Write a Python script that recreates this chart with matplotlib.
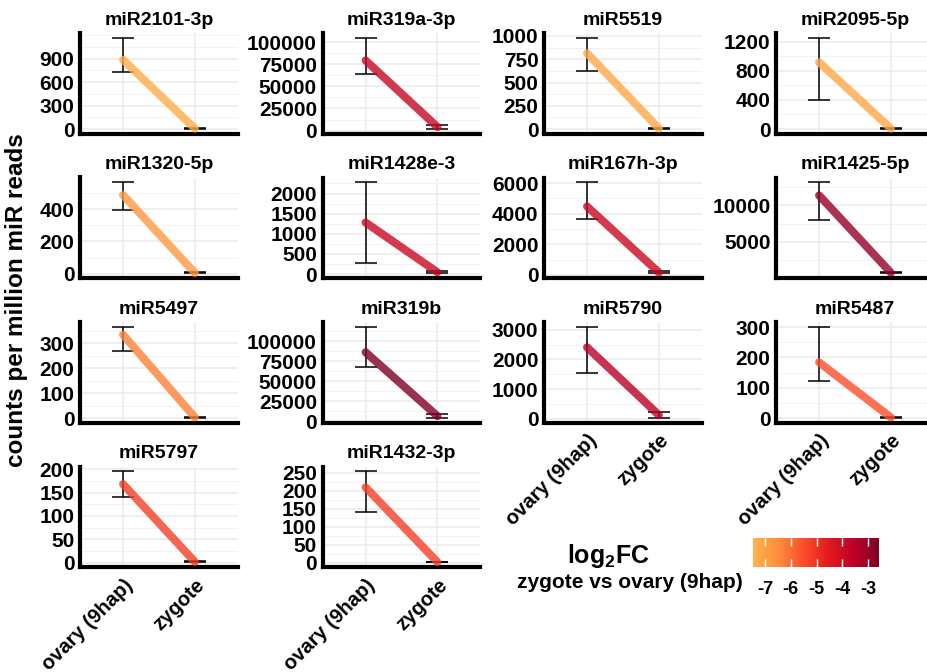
import numpy as np
import matplotlib
matplotlib.use("Agg")
import matplotlib.pyplot as plt
from matplotlib.colors import LinearSegmentedColormap, Normalize
from matplotlib.cm import ScalarMappable
from matplotlib.ticker import FixedLocator, AutoMinorLocator, FuncFormatter

plt.rcParams['font.family'] = ['Liberation Sans', 'DejaVu Sans']
plt.rcParams['font.weight'] = 'bold'
plt.rcParams['axes.unicode_minus'] = False
plt.rcParams['mathtext.fontset'] = 'custom'
plt.rcParams['mathtext.rm'] = 'Liberation Sans:bold'
plt.rcParams['mathtext.it'] = 'Liberation Sans:bold'
plt.rcParams['mathtext.bf'] = 'Liberation Sans:bold'

# mirna names in facet order
mirnas = ["miR2101-3p", "miR319a-3p", "miR5519", "miR2095-5p",
          "miR1320-5p", "miR1428e-3", "miR167h-3p", "miR1425-5p",
          "miR5497", "miR319b", "miR5790", "miR5487",
          "miR5797", "miR1432-3p"]
stages = ["ovary (9hap)", "zygote"]

# mean counts per million and error bar ends
ovary_mean = [885, 79600, 814, 916, 488, 1281, 4468, 11360, 333, 86400, 2408, 184, 168, 209]
ovary_lo = [735, 64100, 624, 397, 396, 286, 3680, 8050, 270, 67900, 1533, 123, 140, 141]
ovary_hi = [1170, 105500, 982, 1255, 569, 2285, 6064, 13180, 366, 118500, 3108, 302, 196, 254]
zygote_mean = [6, 4000, 6, 6, 4, 45, 150, 770, 3, 6500, 120, 2, 1.5, 1.5]
zygote_lo = [2, 1800, 2, 2, 1, 15, 90, 680, 1, 4200, 25, 0.5, 0.5, 0.5]
zygote_hi = [14, 6500, 14, 14, 9, 85, 250, 880, 6, 9500, 220, 4, 3, 3]

# log2 fold change zygote vs ovary
log2fc = [-7.3, -3.8, -7.2, -7.2, -6.8, -3.9, -3.9, -2.9, -6.3, -2.6, -3.5, -5.5, -5.2, -5.2]

yticks = [[0, 300, 600, 900],
          [0, 25000, 50000, 75000, 100000],
          [0, 250, 500, 750, 1000],
          [0, 400, 800, 1200],
          [0, 200, 400],
          [0, 500, 1000, 1500, 2000],
          [0, 2000, 4000, 6000],
          [5000, 10000],
          [0, 100, 200, 300],
          [0, 25000, 50000, 75000, 100000],
          [0, 1000, 2000, 3000],
          [0, 100, 200, 300],
          [0, 50, 100, 150, 200],
          [0, 50, 100, 150, 200, 250]]

cbar_ticks = [-7, -6, -5, -4, -3]
cbar_labels = ["-7", "-6", "-5", "-4", "-3"]

cmap = LinearSegmentedColormap.from_list(
    "ylorrd_part", ["#FEB24C", "#FD8D3C", "#FC4E2A", "#E31A1C", "#BD0026", "#800026"])
norm = Normalize(vmin=-7.47, vmax=-2.57)

W, H = 927, 672
fig = plt.figure(figsize=(W / 100, H / 100), dpi=100)

col_left = [80, 322.5, 544, 776]
row_top = [33, 177.5, 322, 466.5]
pw, ph = 158, 100.5
ncol = 4

for i, name in enumerate(mirnas):
    r, c = divmod(i, ncol)
    ax = fig.add_axes([col_left[c] / W, (H - row_top[r] - ph) / H, pw / W, ph / H])
    color = cmap(norm(log2fc[i]))

    means = [ovary_mean[i], zygote_mean[i]]
    lows = [ovary_lo[i], zygote_lo[i]]
    highs = [ovary_hi[i], zygote_hi[i]]
    yerr = [[m - l for m, l in zip(means, lows)], [h - m for m, h in zip(means, highs)]]

    ax.errorbar(stages, means, yerr=yerr, fmt='none', ecolor='black',
                elinewidth=1.1, capsize=7.8, capthick=1.1, zorder=3)
    ax.plot(stages, means, color=color, alpha=0.8, lw=5.8,
            solid_capstyle='round', zorder=4)

    lo, hi = min(lows), max(highs)
    pad = 0.05 * (hi - lo)
    ax.set_ylim(lo - pad, hi + pad)
    ax.set_xlim(-0.6, 1.6)

    ax.yaxis.set_major_locator(FixedLocator(yticks[i]))
    ax.yaxis.set_major_formatter(FuncFormatter(lambda v, p: f"{int(v)}"))
    ax.yaxis.set_minor_locator(AutoMinorLocator(2))
    ax.grid(True, which='major', color='#EBEBEB', lw=1.1, zorder=0)
    ax.grid(True, which='minor', axis='y', color='#F2F2F2', lw=0.7, zorder=0)
    ax.set_axisbelow(True)

    for s in ['top', 'right']:
        ax.spines[s].set_visible(False)
    for s in ['left', 'bottom']:
        ax.spines[s].set_linewidth(3)
        ax.spines[s].set_color('black')
        ax.spines[s].set_capstyle('projecting')

    ax.tick_params(axis='both', which='both', length=0, labelsize=15, pad=4)
    ax.set_title(name, fontsize=14, fontweight='bold', pad=6)

    # x labels only on the lowest panel in each column
    last_in_col = i + ncol >= len(mirnas)
    if last_in_col:
        for lab in ax.get_xticklabels():
            lab.set_rotation(45)
            lab.set_ha('right')
            lab.set_va('top')
            lab.set_rotation_mode('anchor')
        ax.tick_params(axis='x', pad=6, labelsize=14.5)
    else:
        ax.tick_params(axis='x', labelbottom=False)

fig.text(17 / W, 1 - 300 / H, "counts per million miR reads", rotation=90,
         ha='center', va='center', fontsize=17.5, fontweight='bold')

# colour legend
fig.text(608 / W, 1 - 556 / H, r"$\mathrm{log_2FC}$", ha='center', va='center',
         fontsize=18, fontweight='bold')
fig.text(630 / W, 1 - 583 / H, "zygote vs ovary (9hap)", ha='center', va='center',
         fontsize=15, fontweight='bold')

cax = fig.add_axes([753 / W, (H - 567) / H, 126 / W, 29 / H])
cb = fig.colorbar(ScalarMappable(norm=norm, cmap=cmap), cax=cax, orientation='horizontal')
cb.outline.set_visible(False)
cb.set_ticks(cbar_ticks)
cb.set_ticklabels(cbar_labels)
cax.tick_params(axis='x', direction='in', color='white', length=6, width=1,
                top=True, bottom=True, labelsize=13, pad=10)

fig.savefig("out.png", dpi=100)
